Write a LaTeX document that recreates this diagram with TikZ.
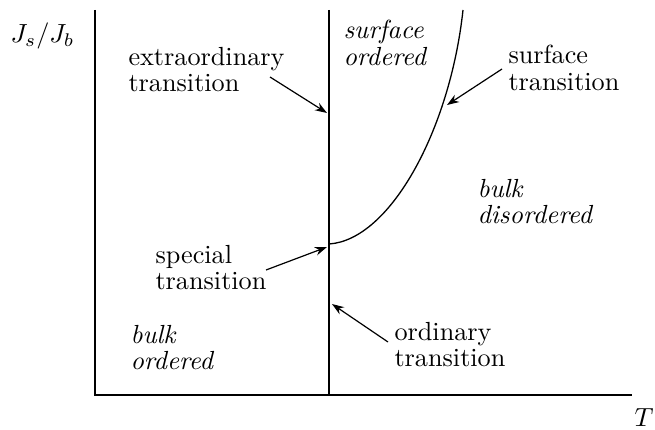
\documentclass[tikz,border=0pt]{standalone}
\usetikzlibrary{arrows.meta}
\begin{document}
\begin{tikzpicture}[x=1pt,y=-1pt,
  big/.style={scale=2.62,transform shape,inner sep=0pt},
  lbl/.style={big,anchor=north west,align=left,font=\fontsize{10}{10}\selectfont},
  ilbl/.style={lbl,font=\fontsize{10}{10}\selectfont\itshape},
  axis/.style={line width=1.3pt},
  pointer/.style={line width=1.2pt,-{Stealth[length=12pt,width=8.5pt]}}]
\useasboundingbox (0,0) rectangle (655,430);
% axes
\coordinate (O) at (95,395);
\coordinate (Ytop) at (95,10);
\coordinate (Xend) at (632,395);
\draw[axis] (Ytop) -- (O) -- (Xend);
% vertical line
\coordinate (Vtop) at (329,10);
\coordinate (Vbot) at (329,395);
\draw[axis] (Vtop) -- (Vbot);
% surface transition curve
\coordinate (S) at (329,244);
\coordinate (Ctop) at (463,10);
\draw[axis] (S) .. controls (390,240) and (450,130) .. (Ctop);
% axis labels
\node[big,anchor=base west,font=\fontsize{10}{10}\selectfont] (ylab) at (10,43) {$J_s/J_b$};
\node[big,anchor=base west,font=\fontsize{10}{10}\selectfont] (xlab) at (634,426) {$T$};
% texts
\node[lbl] (ext) at (128,47) {extraordinary\\transition};
\node[ilbl] (sord) at (343,20) {surface\\ordered};
\node[lbl] (stra) at (508,45) {surface\\transition};
\node[ilbl] (bdis) at (477,179) {bulk\\disordered};
\node[lbl] (spec) at (155,245) {special\\transition};
\node[ilbl] (bord) at (130,325) {bulk\\ordered};
\node[lbl] (ordt) at (394,322) {ordinary\\transition};
% arrows
\coordinate (a1s) at (270,77);  \coordinate (a1e) at (327,113);
\coordinate (a2s) at (502,69);  \coordinate (a2e) at (447,105);
\coordinate (a3s) at (266,270); \coordinate (a3e) at (327,247);
\coordinate (a4s) at (388,342); \coordinate (a4e) at (332,304);
\draw[pointer] (a1s) -- (a1e);
\draw[pointer] (a2s) -- (a2e);
\draw[pointer] (a3s) -- (a3e);
\draw[pointer] (a4s) -- (a4e);
\end{tikzpicture}
\end{document}
